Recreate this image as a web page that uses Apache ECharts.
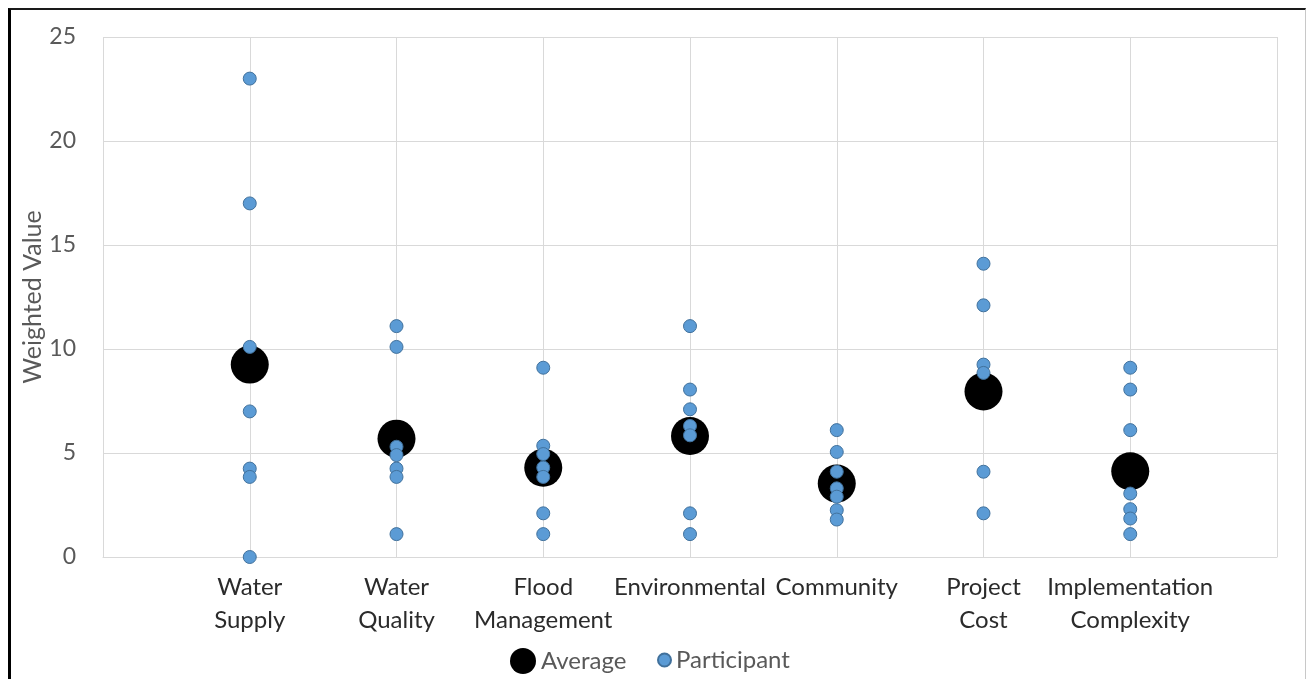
<!DOCTYPE html>
<html>
<head>
<meta charset="utf-8">
<title>Weighted Value by Criterion</title>
<script src="https://cdn.jsdelivr.net/npm/echarts@6.0.0/dist/echarts.min.js"></script>
<style>
  html, body { margin: 0; padding: 0; background: #ffffff; overflow: hidden; }
  .frame {
    position: absolute;
    left: 8px;
    top: 8px;
    width: 1298px;
    height: 720px;
    box-sizing: border-box;
    border-left: 3px solid #000000;
    border-top: 2px solid #1a1a1a;
    border-right: 1px solid #c8c8c8;
  }
  #chart { position: absolute; left: 0; top: 0; width: 1307px; height: 679px; }
</style>
</head>
<body>
<div class="frame"></div>
<div id="chart"></div>
<script>
// Criteria shown along the x axis (positions 1..7)
const categories = [
  'Water\nSupply',
  'Water\nQuality',
  'Flood\nManagement',
  'Environmental',
  'Community',
  'Project\nCost',
  'Implementation\nComplexity'
]

// Average weighted value per criterion
const averages = [9.25, 5.69, 4.29, 5.82, 3.53, 7.96, 4.12]

// Individual participant weights per criterion
const waterSupply = [23, 17, 10.1, 7, 4.25, 3.85, 0]
const waterQuality = [11.1, 10.1, 5.3, 4.9, 4.25, 3.85, 1.1]
const floodManagement = [9.1, 5.35, 4.95, 4.3, 3.85, 2.1, 1.1]
const environmental = [11.1, 8.05, 7.1, 6.3, 5.85, 2.1, 1.1]
const community = [6.1, 5.05, 4.1, 3.3, 2.9, 2.25, 1.8]
const projectCost = [14.1, 12.1, 9.25, 8.85, 4.1, 2.1]
const implementation = [9.1, 8.05, 6.1, 3.05, 2.3, 1.85, 1.1]

const participants = [
  waterSupply, waterQuality, floodManagement, environmental,
  community, projectCost, implementation
]

const yTicks = [0, 5, 10, 15, 20, 25]

const averageData = averages.map((v, i) => [i + 1, v])
const participantData = []
participants.forEach((list, i) => {
  list.forEach(v => participantData.push([i + 1, v]))
})

const font = 'Lato, "Open Sans", sans-serif'
const gridColor = '#d9d9d9'
const labelGray = '#595959'

const chart = echarts.init(document.getElementById('chart'), null, { renderer: 'canvas' })

const option = {
  backgroundColor: 'transparent',
  animation: false,
  textStyle: { fontFamily: font },
  grid: {
    left: 103,
    top: 37,
    width: 1174,
    height: 520,
    containLabel: false
  },
  xAxis: {
    type: 'value',
    min: 0,
    max: 8,
    interval: 1,
    axisLine: { show: true, lineStyle: { color: gridColor, width: 1 } },
    axisTick: { show: false },
    splitLine: { show: true, lineStyle: { color: gridColor, width: 1 } },
    axisLabel: {
      color: '#2b2b2b',
      fontFamily: font,
      fontSize: 24,
      lineHeight: 33,
      margin: 14,
      showMinLabel: true,
      showMaxLabel: true,
      formatter: (v) => categories[v - 1] || ''
    }
  },
  yAxis: {
    type: 'value',
    min: yTicks[0],
    max: yTicks[yTicks.length - 1],
    interval: 5,
    name: 'Weighted Value',
    nameLocation: 'middle',
    nameRotate: 90,
    nameGap: 58,
    nameMoveOverlap: false,
    nameTextStyle: { color: labelGray, fontFamily: font, fontSize: 25 },
    axisLine: { show: false },
    axisTick: { show: false },
    splitLine: { show: true, lineStyle: { color: gridColor, width: 1 } },
    axisLabel: {
      color: labelGray,
      fontFamily: font,
      fontSize: 23,
      margin: 27
    }
  },
  legend: [
    {
      data: ['Average'],
      left: 505,
      top: 643,
      icon: 'circle',
      itemWidth: 26,
      itemHeight: 26,
      textStyle: { color: labelGray, fontFamily: font, fontSize: 24 }
    },
    {
      data: ['Participant'],
      left: 652,
      top: 643,
      icon: 'circle',
      itemWidth: 13,
      itemHeight: 13,
      textStyle: { color: labelGray, fontFamily: font, fontSize: 24 }
    }
  ],
  series: [
    {
      name: 'Average',
      type: 'scatter',
      data: averageData,
      symbol: 'circle',
      symbolSize: 38,
      itemStyle: { color: '#000000', opacity: 1 }
    },
    {
      name: 'Participant',
      type: 'scatter',
      data: participantData,
      symbol: 'circle',
      symbolSize: 13,
      itemStyle: {
        color: '#5b9bd5',
        borderColor: '#41719c',
        borderWidth: 1,
        opacity: 1
      }
    }
  ]
}

chart.setOption(option)
</script>
</body>
</html>
